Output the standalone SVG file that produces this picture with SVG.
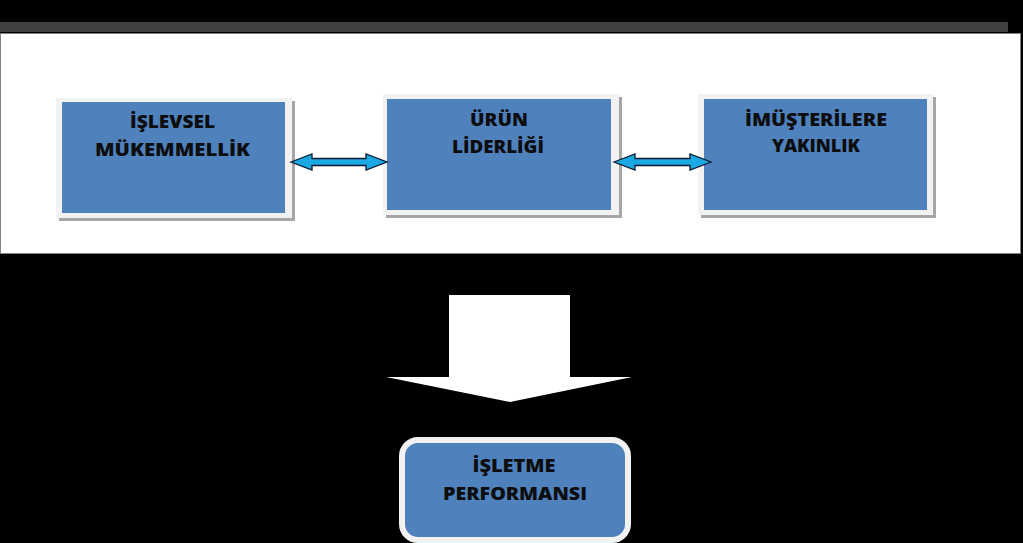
<svg xmlns="http://www.w3.org/2000/svg" width="1023" height="543" viewBox="0 0 1023 543">
<defs>
<style>
.lbl{font-family:"Open Sans",Lato,"Liberation Sans",sans-serif;font-weight:800;font-size:17px;fill:#0d0d0d;text-anchor:middle}
.frame{fill:#f2f2f2}
.shadow{fill:#a6a6a6}
.box{fill:#4f81bd}
.dbl{fill:#1ca8e3;stroke:#0a1a33;stroke-width:1.3;stroke-linejoin:miter}
</style>
</defs>
<rect x="0" y="0" width="1023" height="543" fill="#000"/>
<rect x="0" y="22" width="1008" height="10" fill="#404040"/>
<rect x="0.5" y="33.5" width="1020" height="220" fill="#fff" stroke="#808080" stroke-width="1"/>

<g id="node-islevsel">
<rect class="shadow" x="59" y="101" width="236" height="120"/>
<rect class="frame" x="56" y="98" width="236" height="120"/>
<rect class="box" x="62" y="102" width="223" height="111"/>
<text class="lbl" x="172.5" y="128" textLength="85" lengthAdjust="spacingAndGlyphs">İŞLEVSEL</text>
<text class="lbl" x="172.5" y="156" textLength="155" lengthAdjust="spacingAndGlyphs">MÜKEMMELLİK</text>
</g>

<g id="node-urun">
<rect class="shadow" x="386" y="97" width="236" height="121"/>
<rect class="frame" x="383" y="94" width="236" height="121"/>
<rect class="box" x="387" y="99" width="224" height="111"/>
<text class="lbl" x="499" y="126" textLength="58" lengthAdjust="spacingAndGlyphs">ÜRÜN</text>
<text class="lbl" x="498" y="153" textLength="92" lengthAdjust="spacingAndGlyphs">LİDERLİĞİ</text>
</g>

<g id="node-musteri">
<rect class="shadow" x="701" y="97" width="235" height="121"/>
<rect class="frame" x="698" y="94" width="235" height="121"/>
<rect class="box" x="704" y="99" width="223" height="111"/>
<text class="lbl" x="816" y="126" textLength="142" lengthAdjust="spacingAndGlyphs">İMÜŞTERİLERE</text>
<text class="lbl" x="816" y="152" textLength="88" lengthAdjust="spacingAndGlyphs">YAKINLIK</text>
</g>

<g id="node-performans">
<rect x="402" y="440" width="226" height="100" rx="16" ry="16" fill="#4f81bd" stroke="#f2f2f2" stroke-width="6"/>
<text class="lbl" x="514" y="472" textLength="83" lengthAdjust="spacingAndGlyphs">İŞLETME</text>
<text class="lbl" x="515" y="500" textLength="144" lengthAdjust="spacingAndGlyphs">PERFORMANSI</text>
</g>

<g id="connectors">
<path class="dbl" d="M291,162 L312,154 L312,158.5 L366,158.5 L366,154 L387,162 L366,170 L366,165.5 L312,165.5 L312,170 Z"/>
<path class="dbl" d="M614,162 L635,154 L635,158.5 L690,158.5 L690,154 L711,162 L690,170 L690,165.5 L635,165.5 L635,170 Z"/>
<path d="M449,295 L570,295 L570,377 L632,377 L510,402 L386,377 L449,377 Z" fill="#fff"/>
</g>
</svg>
